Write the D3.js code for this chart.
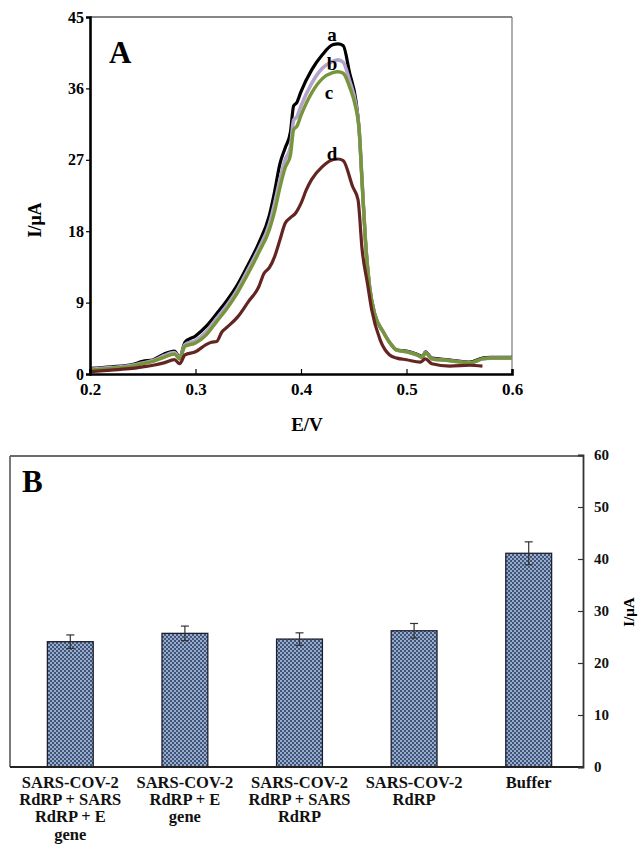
<!DOCTYPE html>
<html>
<head>
<meta charset="utf-8">
<script src="https://cdn.jsdelivr.net/npm/d3@7"></script>
<style>
  body { margin: 0; background: #fff; }
  svg { display: block; font-family: "Liberation Serif", "Times New Roman", serif; font-weight: bold; }
</style>
</head>
<body>
<div id="chart"></div>
<script>
// Panel A - voltammograms (E/V vs I/uA)
const potentialABC = [0.200, 0.220, 0.240, 0.250, 0.260, 0.270, 0.280, 0.285, 0.290, 0.300, 0.310, 0.320, 0.330, 0.340, 0.350, 0.360, 0.370, 0.375, 0.380, 0.385, 0.390, 0.393, 0.396, 0.400, 0.410, 0.420, 0.430, 0.435, 0.440, 0.446, 0.452, 0.455, 0.458, 0.461, 0.465, 0.470, 0.478, 0.485, 0.491, 0.500, 0.510, 0.515, 0.518, 0.524, 0.540, 0.560, 0.572, 0.580, 0.600];
const currentA = [0.7, 0.9, 1.2, 1.6, 1.8, 2.5, 2.9, 2.1, 4.0, 4.8, 6.0, 7.6, 9.3, 11.3, 13.8, 16.5, 20.0, 23.0, 26.5, 28.5, 30.5, 33.8, 34.2, 35.6, 38.3, 40.2, 41.5, 41.6, 41.4, 38.0, 34.5, 31.0, 24.0, 17.0, 11.0, 7.5, 5.3, 3.8, 3.0, 2.9, 2.5, 2.2, 2.8, 2.0, 1.8, 1.5, 2.0, 2.1, 2.1];
const currentB = [0.6, 0.8, 1.1, 1.4, 1.7, 2.3, 2.7, 2.0, 3.7, 4.2, 5.3, 7.0, 8.7, 10.7, 13.2, 15.8, 18.9, 21.5, 24.5, 27.0, 28.6, 32.0, 32.4, 33.8, 36.6, 38.5, 39.4, 39.6, 39.3, 37.0, 34.0, 31.0, 24.0, 17.0, 11.0, 7.5, 5.3, 3.8, 3.0, 2.8, 2.4, 2.1, 2.7, 1.9, 1.7, 1.4, 1.9, 2.0, 2.0];
const currentC = [0.5, 0.7, 1.0, 1.3, 1.6, 2.1, 2.5, 1.9, 3.5, 3.9, 4.9, 6.6, 8.3, 10.3, 12.7, 15.3, 18.2, 20.5, 23.5, 26.0, 27.6, 30.8, 31.2, 32.6, 35.4, 37.2, 38.0, 38.1, 37.9, 36.2, 33.5, 31.0, 24.0, 17.0, 11.0, 7.5, 5.3, 3.8, 3.0, 2.8, 2.4, 2.1, 2.7, 1.9, 1.7, 1.4, 1.9, 2.0, 2.0];
const potentialD = [0.200, 0.220, 0.240, 0.250, 0.260, 0.270, 0.280, 0.285, 0.290, 0.300, 0.310, 0.315, 0.320, 0.325, 0.330, 0.340, 0.350, 0.360, 0.365, 0.370, 0.375, 0.380, 0.385, 0.390, 0.395, 0.400, 0.405, 0.410, 0.420, 0.430, 0.435, 0.440, 0.449, 0.454, 0.458, 0.463, 0.467, 0.475, 0.484, 0.491, 0.500, 0.513, 0.518, 0.524, 0.541, 0.560, 0.572];
const currentD = [0.3, 0.5, 0.7, 0.9, 1.1, 1.4, 1.8, 1.3, 2.4, 2.8, 3.7, 4.0, 4.1, 5.3, 5.9, 7.2, 9.1, 11.0, 12.7, 13.4, 14.8, 16.9, 19.0, 19.7, 20.3, 21.5, 23.2, 24.5, 26.1, 27.0, 27.1, 26.9, 23.6, 22.0, 15.6, 11.4, 8.1, 4.3, 2.4, 2.0, 1.8, 1.5, 1.9, 1.3, 1.0, 1.1, 1.0];
const seriesNames = ["a", "b", "c", "d"];
const seriesColors = ["#000000", "#b3a2cb", "#77953a", "#642522"];
const xTicksA = [0.2, 0.3, 0.4, 0.5, 0.6];
const yTicksA = [0, 9, 18, 27, 36, 45];

// Panel B - bar chart
const categoryLines = [
  ["SARS-COV-2", "RdRP + SARS", "RdRP + E", "gene"],
  ["SARS-COV-2", "RdRP + E", "gene"],
  ["SARS-COV-2", "RdRP + SARS", "RdRP"],
  ["SARS-COV-2", "RdRP"],
  ["Buffer"]
];
const barValues = [24.1, 25.7, 24.6, 26.2, 41.1];
const barErrors = [1.3, 1.4, 1.2, 1.4, 2.2];
const yTicksB = [0, 10, 20, 30, 40, 50, 60];

const svg = d3.select("#chart").append("svg")
  .attr("width", 641)
  .attr("height", 845);

// ---------- Panel A ----------
const x = d3.scaleLinear().domain([0.2, 0.6]).range([90, 512]);
const y = d3.scaleLinear().domain([0, 45]).range([374, 17]);

const gA = svg.append("g");

// top and right frame lines
gA.append("line").attr("x1", 90).attr("x2", 512).attr("y1", 17).attr("y2", 17)
  .attr("stroke", "#111").attr("stroke-width", 1.2);
gA.append("line").attr("x1", 512).attr("x2", 512).attr("y1", 17).attr("y2", 374)
  .attr("stroke", "#777").attr("stroke-width", 1.2);

const line = d3.line()
  .curve(d3.curveMonotoneX)
  .x(d => x(d[0]))
  .y(d => y(d[1]));

const curves = [
  d3.zip(potentialABC, currentA),
  d3.zip(potentialABC, currentB),
  d3.zip(potentialABC, currentC),
  d3.zip(potentialD, currentD)
];
const widths = [3.2, 3.6, 3.4, 3.2];

curves.forEach((pts, i) => {
  gA.append("path")
    .datum(pts)
    .attr("fill", "none")
    .attr("stroke", seriesColors[i])
    .attr("stroke-width", widths[i])
    .attr("stroke-linejoin", "round")
    .attr("d", line);
});

// curve labels
const labelPos = [[332, 41], [332, 70], [329, 99], [332, 160]];
gA.selectAll(".clab")
  .data(seriesNames)
  .enter().append("text")
  .attr("x", (d, i) => labelPos[i][0])
  .attr("y", (d, i) => labelPos[i][1])
  .attr("text-anchor", "middle")
  .attr("font-size", "19px")
  .attr("fill", "#000")
  .text(d => d);

const xAxisA = gA.append("g")
  .attr("transform", "translate(0,374)")
  .call(d3.axisBottom(x).tickValues(xTicksA).tickFormat(d3.format(".1f")).tickSize(-5).tickPadding(9));
const yAxisA = gA.append("g")
  .attr("transform", "translate(90,0)")
  .call(d3.axisLeft(y).tickValues(yTicksA).tickSize(4).tickPadding(2));

[xAxisA, yAxisA].forEach(ax => {
  ax.attr("font-family", null).attr("font-size", null);
  ax.select(".domain").attr("stroke", "#000").attr("stroke-width", 2.6);
  ax.selectAll(".tick line").attr("stroke", "#000").attr("stroke-width", 1.2);
  ax.selectAll(".tick text")
    .attr("fill", "#000")
    .style("font-weight", "bold");
});
xAxisA.selectAll(".tick text").style("font-size", "17px");
yAxisA.selectAll(".tick text").style("font-size", "16px");

gA.append("text")
  .attr("x", 307).attr("y", 431)
  .attr("text-anchor", "middle")
  .attr("font-size", "19px")
  .text("E/V");

gA.append("text")
  .attr("transform", "translate(41,220) rotate(-90)")
  .attr("text-anchor", "middle")
  .attr("font-size", "18px")
  .text("I/μA");

gA.append("text")
  .attr("x", 109).attr("y", 63)
  .attr("font-size", "31px")
  .text("A");

// ---------- Panel B ----------
const defs = svg.append("defs");
const pat = defs.append("pattern")
  .attr("id", "checker")
  .attr("width", 4).attr("height", 4)
  .attr("patternUnits", "userSpaceOnUse");
pat.append("rect").attr("width", 4).attr("height", 4).attr("fill", "#3f5479");
pat.append("rect").attr("x", 0).attr("y", 0).attr("width", 2).attr("height", 2).attr("fill", "#9aaccb");
pat.append("rect").attr("x", 2).attr("y", 2).attr("width", 2).attr("height", 2).attr("fill", "#9aaccb");

const xb = d3.scaleBand()
  .domain(d3.range(categoryLines.length))
  .range([13, 586])
  .paddingInner(0.6)
  .paddingOuter(0.3);
const yb = d3.scaleLinear().domain([0, 60]).range([767, 455]);

const gB = svg.append("g");

// frame left and top
gB.append("line").attr("x1", 10).attr("x2", 10).attr("y1", 456).attr("y2", 767)
  .attr("stroke", "#7a7a7a").attr("stroke-width", 2);
gB.append("line").attr("x1", 10).attr("x2", 583).attr("y1", 456).attr("y2", 456)
  .attr("stroke", "#6a6a6a").attr("stroke-width", 2);

gB.selectAll(".bar")
  .data(barValues)
  .enter().append("rect")
  .attr("x", (d, i) => xb(i))
  .attr("y", d => yb(d))
  .attr("width", xb.bandwidth())
  .attr("height", d => yb(0) - yb(d))
  .attr("fill", "url(#checker)")
  .attr("stroke", "#1c2030")
  .attr("stroke-width", 1.3);

// error bars
const errG = gB.selectAll(".err")
  .data(barValues)
  .enter().append("g")
  .attr("stroke", "#333")
  .attr("stroke-width", 1.2);
errG.append("line")
  .attr("x1", (d, i) => xb(i) + xb.bandwidth() / 2)
  .attr("x2", (d, i) => xb(i) + xb.bandwidth() / 2)
  .attr("y1", (d, i) => yb(d - barErrors[i]))
  .attr("y2", (d, i) => yb(d + barErrors[i]));
[1, -1].forEach(s => {
  errG.append("line")
    .attr("x1", (d, i) => xb(i) + xb.bandwidth() / 2 - 4)
    .attr("x2", (d, i) => xb(i) + xb.bandwidth() / 2 + 4)
    .attr("y1", (d, i) => yb(d + s * barErrors[i]))
    .attr("y2", (d, i) => yb(d + s * barErrors[i]));
});

// bottom axis line
gB.append("line").attr("x1", 10).attr("x2", 583).attr("y1", 767).attr("y2", 767)
  .attr("stroke", "#222").attr("stroke-width", 2);

// category labels
const catG = gB.selectAll(".cat")
  .data(categoryLines)
  .enter().append("text")
  .attr("text-anchor", "middle")
  .attr("font-size", "16.5px")
  .attr("fill", "#111");
catG.selectAll("tspan")
  .data((d, i) => d.map(t => ({ t, i })))
  .enter().append("tspan")
  .attr("x", d => xb(d.i) + xb.bandwidth() / 2)
  .attr("y", (d, j) => 788 + j * 17.2)
  .text(d => d.t);

const yAxisB = gB.append("g")
  .attr("transform", "translate(583,0)")
  .call(d3.axisRight(yb).tickValues(yTicksB).tickSize(-5).tickPadding(11));
yAxisB.attr("font-family", null).attr("font-size", null);
yAxisB.select(".domain").attr("stroke", "#333").attr("stroke-width", 1.8);
yAxisB.selectAll(".tick line").attr("stroke", "#333").attr("stroke-width", 1.2);
yAxisB.selectAll(".tick text")
  .attr("fill", "#111")
  .style("font-size", "15px")
  .style("font-weight", "bold");

gB.append("text")
  .attr("transform", "translate(634,612) rotate(-90)")
  .attr("text-anchor", "middle")
  .attr("font-size", "15px")
  .text("I/μA");

gB.append("text")
  .attr("x", 22).attr("y", 492)
  .attr("font-size", "31px")
  .text("B");
</script>
</body>
</html>
